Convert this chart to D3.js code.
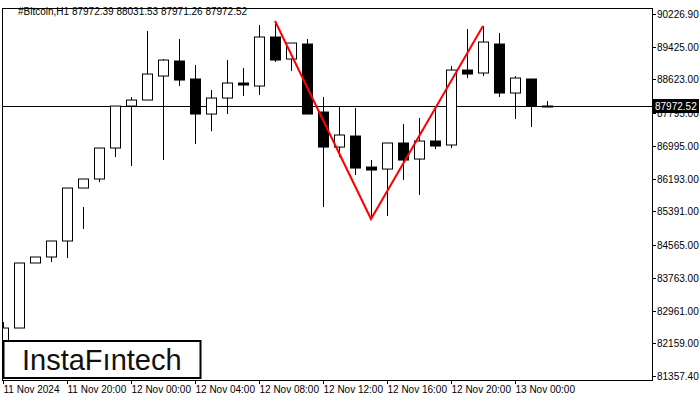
<!DOCTYPE html>
<html>
<head>
<meta charset="utf-8">
<script src="https://cdn.jsdelivr.net/npm/d3@7"></script>
<style>
body { margin: 0; background: #fff; }
text { font-family: "Liberation Sans", Arial, sans-serif; }
</style>
</head>
<body>
<svg id="chart" width="700" height="400"></svg>
<script>
// H1 candles, starting 11 Nov 2024 16:00
const opens  = [82116, 82533, 84126, 84273, 84665, 85963, 86184, 86943, 87972, 88119, 88707, 89075, 88634, 87776, 88168, 88536, 88462, 89663, 89124, 89491, 87825, 86967, 87237, 86477, 86428, 87066, 86673, 87115, 87017, 88854, 88781, 89491, 88291, 88634, 87972];
const highs  = [82680, 82386, 83880, 84150, 85963, 85497, 86943, 87556, 88193, 89810, 89124, 89614, 88977, 88364, 89099, 88903, 89956, 90055, 89516, 89614, 88193, 87948, 87924, 86649, 86522, 87531, 87678, 87948, 88952, 89859, 89932, 89761, 88707, 88634, 88095];
const lows   = [81994, 82386, 83880, 84273, 84248, 84959, 86110, 86722, 86502, 88119, 86649, 88462, 87041, 87354, 87776, 88217, 88242, 89050, 88830, 87776, 85497, 86722, 86281, 85203, 85277, 86159, 85792, 86918, 86943, 88658, 88707, 88193, 87654, 87458, 87972];
const closes = [82533, 84126, 84273, 84665, 85963, 86184, 86943, 87972, 88119, 88756, 89099, 88609, 87776, 88168, 88536, 88487, 89663, 89099, 89516, 87776, 86967, 87262, 86453, 86404, 87066, 86649, 87115, 86992, 88854, 88756, 89540, 88291, 88658, 87972, 87972.52];
const timeLabels = ["11 Nov 2024", "11 Nov 20:00", "12 Nov 00:00", "12 Nov 04:00", "12 Nov 08:00", "12 Nov 12:00", "12 Nov 16:00", "12 Nov 20:00", "13 Nov 00:00"];
const priceTicks = [90226.90, 89425.00, 88623.00, 87795.00, 86995.00, 86193.00, 85391.00, 84565.00, 83763.00, 82961.00, 82159.00, 81357.40];
const patternIdx = [17, 23, 30];
const patternPrices = [90055, 85203, 89932];
const lastPrice = 87972.52;

const svg = d3.select('#chart');
const pLeft = 2, pRight = 652, pTop = 8, pBottom = 380;

const x = d3.scaleLinear().domain([0, 34]).range([3, 547]);
const y = d3.scaleLinear().domain([81357.4, 90226.9]).range([376, 14]);

svg.append('rect').attr('x', pLeft + 0.5).attr('y', pTop + 0.5).attr('width', pRight - pLeft).attr('height', pBottom - pTop)
    .attr('fill', 'none').attr('stroke', '#000');

svg.append('defs').append('clipPath').attr('id', 'clip')
    .append('rect').attr('x', pLeft + 1).attr('y', pTop + 1).attr('width', pRight - pLeft - 1).attr('height', pBottom - pTop - 1);
const g = svg.append('g').attr('clip-path', 'url(#clip)');

// last price line
g.append('line').attr('x1', pLeft).attr('x2', pRight)
    .attr('y1', Math.round(y(lastPrice)) + 0.5).attr('y2', Math.round(y(lastPrice)) + 0.5)
    .attr('stroke', '#000');

const candles = opens.map((o, i) => ({ i, o, h: highs[i], l: lows[i], c: closes[i] }));

g.selectAll('.wick').data(candles).enter().append('line')
    .attr('x1', d => Math.round(x(d.i)) + 0.5).attr('x2', d => Math.round(x(d.i)) + 0.5)
    .attr('y1', d => y(d.h)).attr('y2', d => y(d.l))
    .attr('stroke', '#000');

g.selectAll('.body').data(candles).enter().append('rect')
    .attr('x', d => Math.round(x(d.i)) - 4.5)
    .attr('y', d => y(Math.max(d.o, d.c)))
    .attr('width', 10)
    .attr('height', d => Math.max(1, Math.abs(y(d.o) - y(d.c))))
    .attr('fill', d => d.c >= d.o ? '#fff' : '#000')
    .attr('stroke', '#000');

// pattern line
const line = d3.line().x((d, k) => x(patternIdx[k])).y(d => y(d));
g.append('path').datum(patternPrices).attr('d', line)
    .attr('fill', 'none').attr('stroke', '#f00').attr('stroke-width', 2);

// right price axis
const axisG = svg.append('g');
priceTicks.forEach(p => {
    const yy = Math.round(y(p)) + 0.5;
    axisG.append('line').attr('x1', pRight).attr('x2', pRight + 4).attr('y1', yy).attr('y2', yy).attr('stroke', '#000');
    axisG.append('text').attr('x', pRight + 5).attr('y', yy + 3.5).attr('font-size', 10).text(p.toFixed(2));
});

// last price label
const ly = y(lastPrice);
svg.append('rect').attr('x', pRight + 1).attr('y', ly - 7).attr('width', 46).attr('height', 14).attr('fill', '#000');
svg.append('text').attr('x', pRight + 3).attr('y', ly + 3.5).attr('font-size', 10).attr('fill', '#fff').text(lastPrice.toFixed(2));

// time axis
timeLabels.forEach((t, k) => {
    const xx = Math.round(x(k * 4)) + 0.5;
    svg.append('line').attr('x1', xx).attr('x2', xx).attr('y1', pBottom).attr('y2', pBottom + 4).attr('stroke', '#000');
    svg.append('text').attr('x', xx).attr('y', pBottom + 13).attr('font-size', 10).text(t);
});

// title
svg.append('text').attr('x', 18).attr('y', 15).attr('font-size', 10)
    .text('#Bitcoin,H1  87972.39 88031.53 87971.26 87972.52');

// logo
svg.append('rect').attr('x', 3.5).attr('y', 341).attr('width', 197).attr('height', 37)
    .attr('fill', '#fff').attr('stroke', '#000').attr('stroke-width', 2);
svg.append('text').attr('x', 22).attr('y', 370).attr('font-size', 29).attr('font-weight', 500)
    .attr('font-family', 'Inter, Lato, sans-serif').attr('fill', '#111').text('InstaFıntech');
</script>
</body>
</html>
